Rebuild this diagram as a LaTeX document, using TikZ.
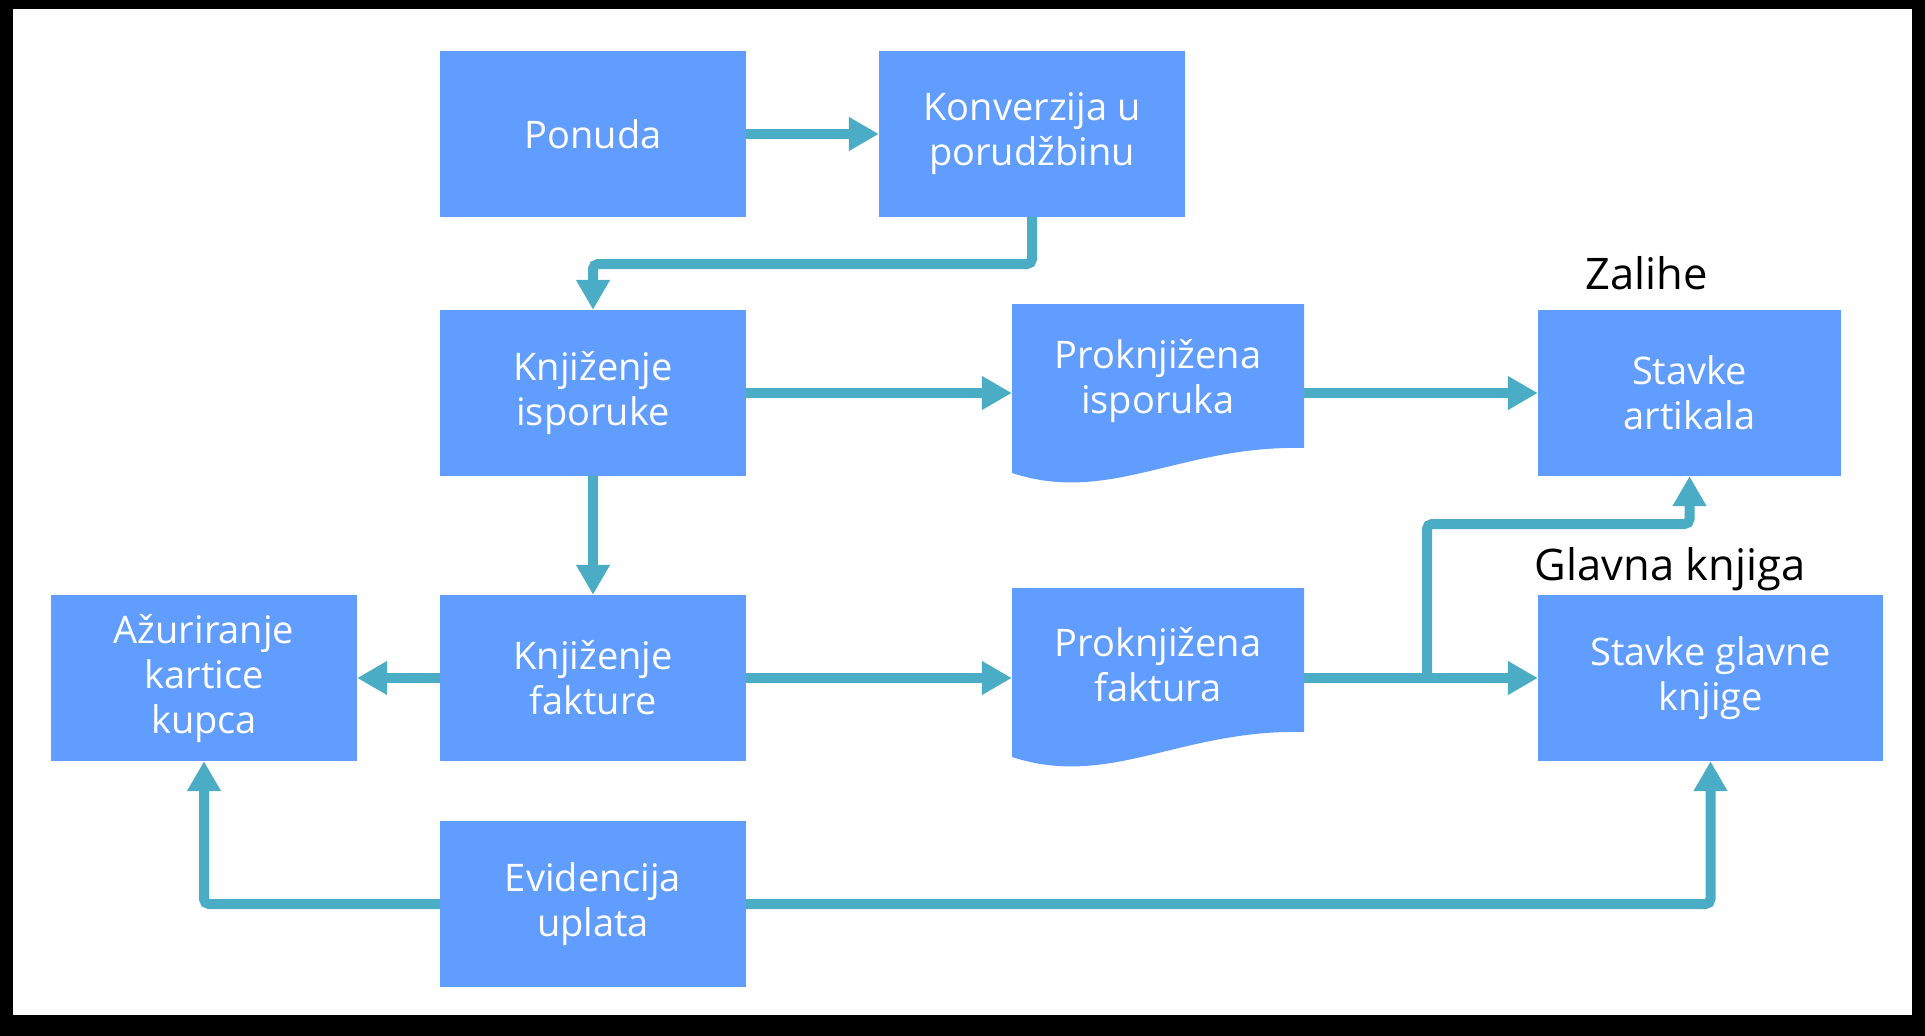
\documentclass[tikz,border=0pt]{standalone}
\usepackage{fontspec}
\setmainfont{Open Sans}
\usetikzlibrary{arrows.meta}
\definecolor{boxblue}{HTML}{619DFF}
\definecolor{arrteal}{HTML}{4BACC6}
\tikzset{
  box/.style={rectangle, fill=boxblue, text=white, align=center, inner sep=0pt,
    minimum width=306pt, minimum height=166pt,
    font=\fontsize{38}{45}\selectfont},
  doctext/.style={rectangle, text=white, align=center, inner sep=0pt,
    minimum width=292pt, font=\fontsize{38}{45}\selectfont},
  lbl/.style={text=black, inner sep=0pt, font=\fontsize{43.5}{50}\selectfont},
  conn/.style={draw=arrteal, line width=10pt, rounded corners=5pt,
    -{Triangle[width=32pt,length=30pt]}}
}
\begin{document}
\begin{tikzpicture}[x=1pt,y=-1pt]
\useasboundingbox (0,0) rectangle (1925,1036);
\fill[black] (0,0) rectangle (1925,1036);
\fill[white] (13,9) rectangle (1912,1015);

% document shapes
\fill[boxblue] (1012,304) -- (1304,304) -- (1304,448)
  .. controls (1180,445) and (1110,505) .. (1012,473) -- cycle;
\fill[boxblue] (1012,588) -- (1304,588) -- (1304,732)
  .. controls (1180,729) and (1110,789) .. (1012,757) -- cycle;

\node[box] (ponuda) at (593,134) {Ponuda};
\node[box] (konv) at (1032,134) {Konverzija u\\porudžbinu};
\node[box] (kisp) at (593,393) {Knjiženje\\isporuke};
\node[box] (kfak) at (593,678) {Knjiženje\\fakture};
\node[box] (azur) at (204,678) {Ažuriranje\\kartice\\kupca};
\node[box] (evid) at (593,904) {Evidencija\\uplata};
\node[box, minimum width=303pt] (sart) at (1689.5,393) {Stavke\\artikala};
\node[box, minimum width=345pt] (sgk) at (1710.5,678) {Stavke glavne\\knjige};
\node[doctext] (pisp) at (1158,381) {Proknjižena\\isporuka};
\node[doctext] (pfak) at (1158,665) {Proknjižena\\faktura};
\node[lbl] (zal) at (1647,273) {Zalihe};
\node[lbl] (gk) at (1670,569) {Glavna knjiga};

\coordinate (br) at (1427,678);

\draw[conn] (ponuda.east) -- (konv.west);
\draw[conn] (konv.south) |- (593,264) -- (kisp.north);
\draw[conn] (kisp.east) -- (kisp.east -| pisp.west);
\draw[conn] (kisp.east -| pisp.east) -- (sart.west);
\draw[conn] (kisp.south) -- (kfak.north);
\draw[conn] (kfak.west) -- (azur.east);
\draw[conn] (kfak.east) -- (kfak.east -| pfak.west);
\draw[conn] (kfak.east -| pfak.east) -- (sgk.west);
\draw[conn] (br) |- (1689.5,524) -- (sart.south);
\draw[conn] (evid.west) -| (azur.south);
\draw[conn] (evid.east) -| (sgk.south);
\end{tikzpicture}
\end{document}
